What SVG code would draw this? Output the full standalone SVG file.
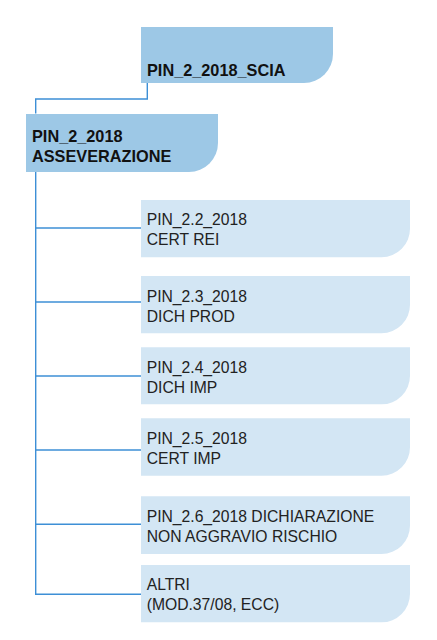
<svg xmlns="http://www.w3.org/2000/svg" width="437" height="640" viewBox="0 0 437 640">
<style>
.dark{fill:#9dc8e6}
.light{fill:#d3e6f4}
.conn{fill:none;stroke:#3d8fd6;stroke-width:1.4}
.tb{font-family:"Liberation Sans",Arial,sans-serif;font-weight:bold;font-size:16.3px;fill:#111}
.tr{font-family:"Liberation Sans",Arial,sans-serif;font-size:15.7px;fill:#222}
</style>
<rect width="437" height="640" fill="#fff"/>
<g id="connectors">
<path class="conn" d="M147.3 83 V99 H35.7 V113.5"/>
<path class="conn" d="M35.7 172 V594.5"/>
<path class="conn" d="M35 228 H141"/>
<path class="conn" d="M35 302 H141"/>
<path class="conn" d="M35 376 H141"/>
<path class="conn" d="M35 450 H141"/>
<path class="conn" d="M35 524.3 H141"/>
<path class="conn" d="M35 594.3 H141"/>
</g>
<g id="scia">
<path class="dark" d="M141 27 H333 V54 A29 29 0 0 1 304 83 H141 Z"/>
<text class="tb" x="147" y="75.5">PIN_2_2018_SCIA</text>
</g>
<g id="asseverazione">
<path class="dark" d="M26 114 H218 V143 A29 29 0 0 1 189 172 H26 Z"/>
<text class="tb" x="32" y="141.5">PIN_2_2018</text>
<text class="tb" x="32" y="161.7">ASSEVERAZIONE</text>
</g>
<g id="cert-rei">
<path class="light" d="M141 200 H410 V228.5 A28.5 28.5 0 0 1 381.5 257.3 H141 Z"/>
<text class="tr" x="146.7" y="225">PIN_2.2_2018</text>
<text class="tr" x="146.7" y="245">CERT REI</text>
</g>
<g id="dich-prod">
<path class="light" d="M141 276 H410 V304.5 A28.5 28.5 0 0 1 381.5 333.3 H141 Z"/>
<text class="tr" x="146.7" y="301.5">PIN_2.3_2018</text>
<text class="tr" x="146.7" y="321.5">DICH PROD</text>
</g>
<g id="dich-imp">
<path class="light" d="M141 347.3 H410 V375.8 A28.5 28.5 0 0 1 381.5 404.3 H141 Z"/>
<text class="tr" x="146.7" y="372.5">PIN_2.4_2018</text>
<text class="tr" x="146.7" y="392.5">DICH IMP</text>
</g>
<g id="cert-imp">
<path class="light" d="M141 418.3 H410 V447 A28.5 28.5 0 0 1 381.5 475.7 H141 Z"/>
<text class="tr" x="146.7" y="444">PIN_2.5_2018</text>
<text class="tr" x="146.7" y="464">CERT IMP</text>
</g>
<g id="non-aggravio">
<path class="light" d="M141 496.3 H410 V525.5 A28.5 28.5 0 0 1 381.5 554 H141 Z"/>
<text class="tr" x="146.7" y="521.5">PIN_2.6_2018 DICHIARAZIONE</text>
<text class="tr" x="146.7" y="541.5">NON AGGRAVIO RISCHIO</text>
</g>
<g id="altri">
<path class="light" d="M141 565 H410 V593.8 A28.5 28.5 0 0 1 381.5 622.3 H141 Z"/>
<text class="tr" x="146.7" y="590">ALTRI</text>
<text class="tr" x="146.7" y="610">(MOD.37/08, ECC)</text>
</g>
</svg>
